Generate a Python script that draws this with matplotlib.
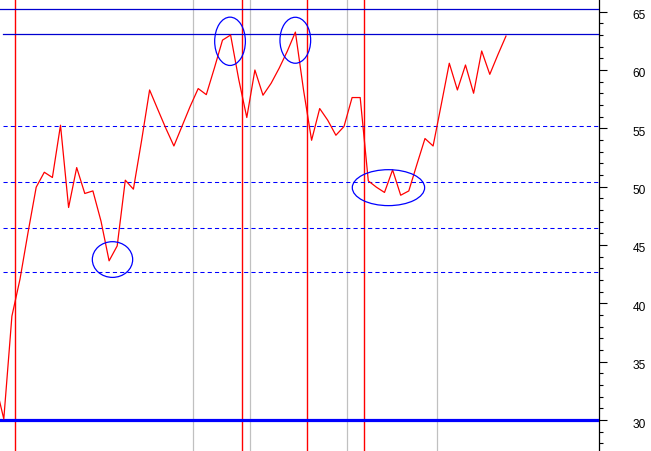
import numpy as np
import matplotlib
matplotlib.use("Agg")
import matplotlib.pyplot as plt
from matplotlib.patches import Ellipse
from matplotlib.transforms import ScaledTranslation

# ---- data ----
values = [33.0, 30.09, 38.9, 42.07, 46.1, 49.95, 51.23, 50.78, 55.26, 48.21,
          51.63, 49.41, 49.63, 47.04, 43.64, 44.92, 50.55, 49.78, 53.9, 58.28,
          56.63, 55.0, 53.48, 55.17, 56.86, 58.4, 57.88, 60.16, 62.55, 62.99,
          59.2, 55.92, 59.99, 57.83, 58.85, 60.15, 61.6, 63.24, 58.3, 53.97,
          56.69, 55.68, 54.4, 55.15, 57.63, 57.63, 50.49, 49.95, 49.5, 51.43,
          49.26, 49.63, 51.9, 54.12, 53.48, 57.0, 60.57, 58.28, 60.42, 58.0,
          61.62, 59.62, 61.3, 62.9]
x_index = np.arange(len(values)) - 1

solid_levels = [65.25, 63.05]
dashed_levels = [55.22, 50.43, 46.46, 42.67]
base_level = 30.0
red_verticals = [1.42, 29.44, 37.47, 44.5]
gray_verticals = [23.4, 30.43, 42.4, 53.52]
# ellipses: (x center, y center, width, height) in data units
ellipses = [(27.93, 62.45, 3.79, 4.14),
            (35.99, 62.54, 3.79, 3.94),
            (13.42, 43.75, 4.98, 3.06),
            (47.49, 49.91, 8.93, 3.08)]
yticks_major = [30, 35, 40, 45, 50, 55, 60, 65]

# ---- figure ----
fig = plt.figure(figsize=(6.51, 4.52), dpi=100)
fig.patch.set_facecolor("white")
ax = fig.add_axes([0, 0, 599.3 / 651, 1])
ax.set_facecolor("white")

ax.set_xlim(-0.469, 73.52)
ax.set_ylim(27.344, 66.075)

for xv in gray_verticals:
    ax.axvline(xv, color="#c0c0c0", lw=0.9, zorder=1)
for xv in red_verticals:
    ax.axvline(xv, color="#ff0000", lw=1.0, zorder=2)

ax.axhline(solid_levels[0], color="#0000d0", lw=0.9, zorder=3)
ax.axhline(solid_levels[1], xmin=0.005, color="#0000d0", lw=0.9, zorder=3)
for yv in dashed_levels:
    ax.axhline(yv, xmin=0.005, color="#0000ff", lw=0.75, dashes=(4, 3), zorder=3)
ax.axhline(base_level, color="#0000ff", lw=2.3, zorder=3)

ax.plot(x_index, values, color="#ff0000", lw=0.9, zorder=4)

for cx, cy, w, h in ellipses:
    ax.add_patch(Ellipse((cx, cy), w, h, fill=False, edgecolor="#0000ff", lw=0.9, zorder=5))

for s in ["left", "top", "bottom"]:
    ax.spines[s].set_visible(False)
ax.spines["right"].set_color("black")
ax.spines["right"].set_linewidth(0.9)

ax.set_xticks([])
ax.yaxis.tick_right()
ax.set_yticks(yticks_major)
ax.set_yticks(np.arange(28, 66, 1), minor=True)
ax.set_yticklabels([str(v) for v in yticks_major], fontfamily="Liberation Sans", fontsize=8.6)
ax.tick_params(axis="y", which="major", length=5.4, width=0.8, color="black", pad=18.7)
ax.tick_params(axis="y", which="minor", length=2.9, width=0.8, color="black")
for lab in ax.get_yticklabels():
    lab.set_transform(lab.get_transform() + ScaledTranslation(0, -2 / 100, fig.dpi_scale_trans))

fig.savefig("out.png", dpi=100)
